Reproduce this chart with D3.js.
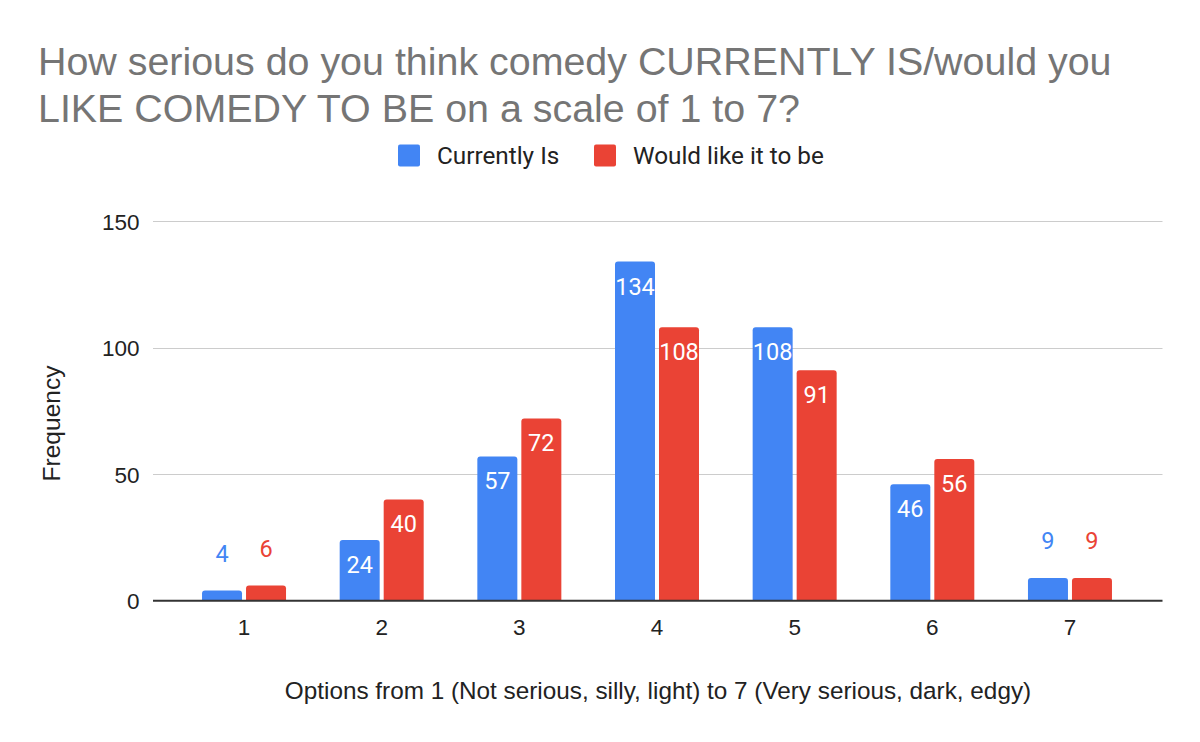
<!DOCTYPE html>
<html><head><meta charset="utf-8">
<script src="https://cdn.jsdelivr.net/npm/d3@7"></script>
<style>html,body{margin:0;padding:0;background:#fff;}svg{display:block;}</style>
</head><body>
<svg id="chart" width="1200" height="742"></svg>
<script>
const categories = ["1","2","3","4","5","6","7"];
const currentlyIs = [4, 24, 57, 134, 108, 46, 9];
const wouldLike = [6, 40, 72, 108, 91, 56, 9];
const seriesNames = ["Currently Is", "Would like it to be"];
const seriesColors = ["#4285F4", "#EA4335"];
const yTicks = [0, 50, 100, 150];
const titleLines = ["How serious do you think comedy CURRENTLY IS/would you", "LIKE COMEDY TO BE on a scale of 1 to 7?"];
const xTitle = "Options from 1 (Not serious, silly, light) to 7 (Very serious, dark, edgy)";
const yTitle = "Frequency";

const svg = d3.select("#chart");
const plotL = 153, plotR = 1162.5;

const x0 = d3.scaleBand().domain(categories).range([175.2, 1138.8]).padding(0);
const x1 = d3.scaleBand().domain(seriesNames).range([-42, 42]).paddingInner(4/44).paddingOuter(0);
const y = d3.scaleLinear().domain([0, 150]).range([600.7, 221]);

// gridlines
svg.append("g").selectAll("line").data(yTicks.filter(d => d !== 0)).join("line")
  .attr("x1", plotL).attr("x2", plotR)
  .attr("y1", d => Math.round(y(d)) + 0.5).attr("y2", d => Math.round(y(d)) + 0.5)
  .attr("stroke", "#cccccc").attr("stroke-width", 1);

// y tick labels
const yAxis = d3.axisLeft(y).tickValues(yTicks).tickSize(0).tickPadding(0);
const gy = svg.append("g").attr("transform", "translate(139.5,0)").call(yAxis);
gy.select(".domain").remove();
gy.selectAll("text").attr("font-family", "'Liberation Sans', Arial, sans-serif")
  .attr("font-size", 22.5).attr("fill", "#222").attr("dy", "0.36em");

// bars
const data = categories.map((c, i) => ({cat: c, vals: [
  {s: seriesNames[0], v: currentlyIs[i], k: 0},
  {s: seriesNames[1], v: wouldLike[i], k: 1}]}));

const groups = svg.append("g").selectAll("g").data(data).join("g")
  .attr("transform", d => `translate(${x0(d.cat) + x0.bandwidth()/2},0)`);

groups.selectAll("path").data(d => d.vals).join("path")
  .attr("fill", d => seriesColors[d.k])
  .attr("d", d => {
    const xa = x1(d.s), w = x1.bandwidth(), yt = y(d.v), yb = y(0), r = 3;
    return `M${xa},${yb} L${xa},${yt + r} Q${xa},${yt} ${xa + r},${yt} L${xa + w - r},${yt} Q${xa + w},${yt} ${xa + w},${yt + r} L${xa + w},${yb} Z`;
  });

groups.selectAll("text").data(d => d.vals).join("text")
  .attr("x", d => x1(d.s) + x1.bandwidth()/2)
  .attr("y", d => (y(0) - y(d.v)) > 40 ? y(d.v) + 33 : y(d.v) - 29)
  .attr("text-anchor", "middle")
  .attr("font-family", "Roboto, sans-serif").attr("font-size", 23.5)
  .attr("fill", d => (y(0) - y(d.v)) > 40 ? "#ffffff" : seriesColors[d.k])
  .text(d => d.v);

// zero line
svg.append("line").attr("x1", plotL).attr("x2", plotR)
  .attr("y1", y(0)).attr("y2", y(0)).attr("stroke", "#333").attr("stroke-width", 2);

// x axis labels
const xAxis = d3.axisBottom(x0).tickSize(0).tickPadding(0);
const gx = svg.append("g").attr("transform", "translate(0,635)").call(xAxis);
gx.select(".domain").remove();
gx.selectAll("text").attr("font-family", "'Liberation Sans', Arial, sans-serif")
  .attr("font-size", 22.5).attr("fill", "#222").attr("dy", 0);

// axis titles
svg.append("text").attr("x", 658).attr("y", 699).attr("text-anchor", "middle")
  .attr("font-family", "'Liberation Sans', Arial, sans-serif").attr("font-size", 24.3).attr("fill", "#222")
  .text(xTitle);
svg.append("text").attr("transform", "translate(60,423.5) rotate(-90)").attr("text-anchor", "middle")
  .attr("font-family", "'Liberation Sans', Arial, sans-serif").attr("font-size", 24.5).attr("fill", "#222")
  .text(yTitle);

// title
svg.append("g").selectAll("text").data(titleLines).join("text")
  .attr("x", 38).attr("y", (d, i) => 75 + i * 46.7)
  .attr("font-family", "'Liberation Sans', Arial, sans-serif").attr("font-size", 39.4).attr("fill", "#757575")
  .text(d => d);

// legend
const legendItems = [{name: seriesNames[0], color: seriesColors[0], x: 398}, {name: seriesNames[1], color: seriesColors[1], x: 594}];
const lg = svg.append("g").selectAll("g").data(legendItems).join("g");
lg.append("rect").attr("x", d => d.x).attr("y", 144.5).attr("width", 22).attr("height", 22).attr("rx", 2).attr("fill", d => d.color);
lg.append("text").attr("x", d => d.x + 39).attr("y", 164).attr("font-family", "Roboto, sans-serif")
  .attr("font-size", 24.3).attr("fill", "#222").text(d => d.name);
</script>
</body></html>
